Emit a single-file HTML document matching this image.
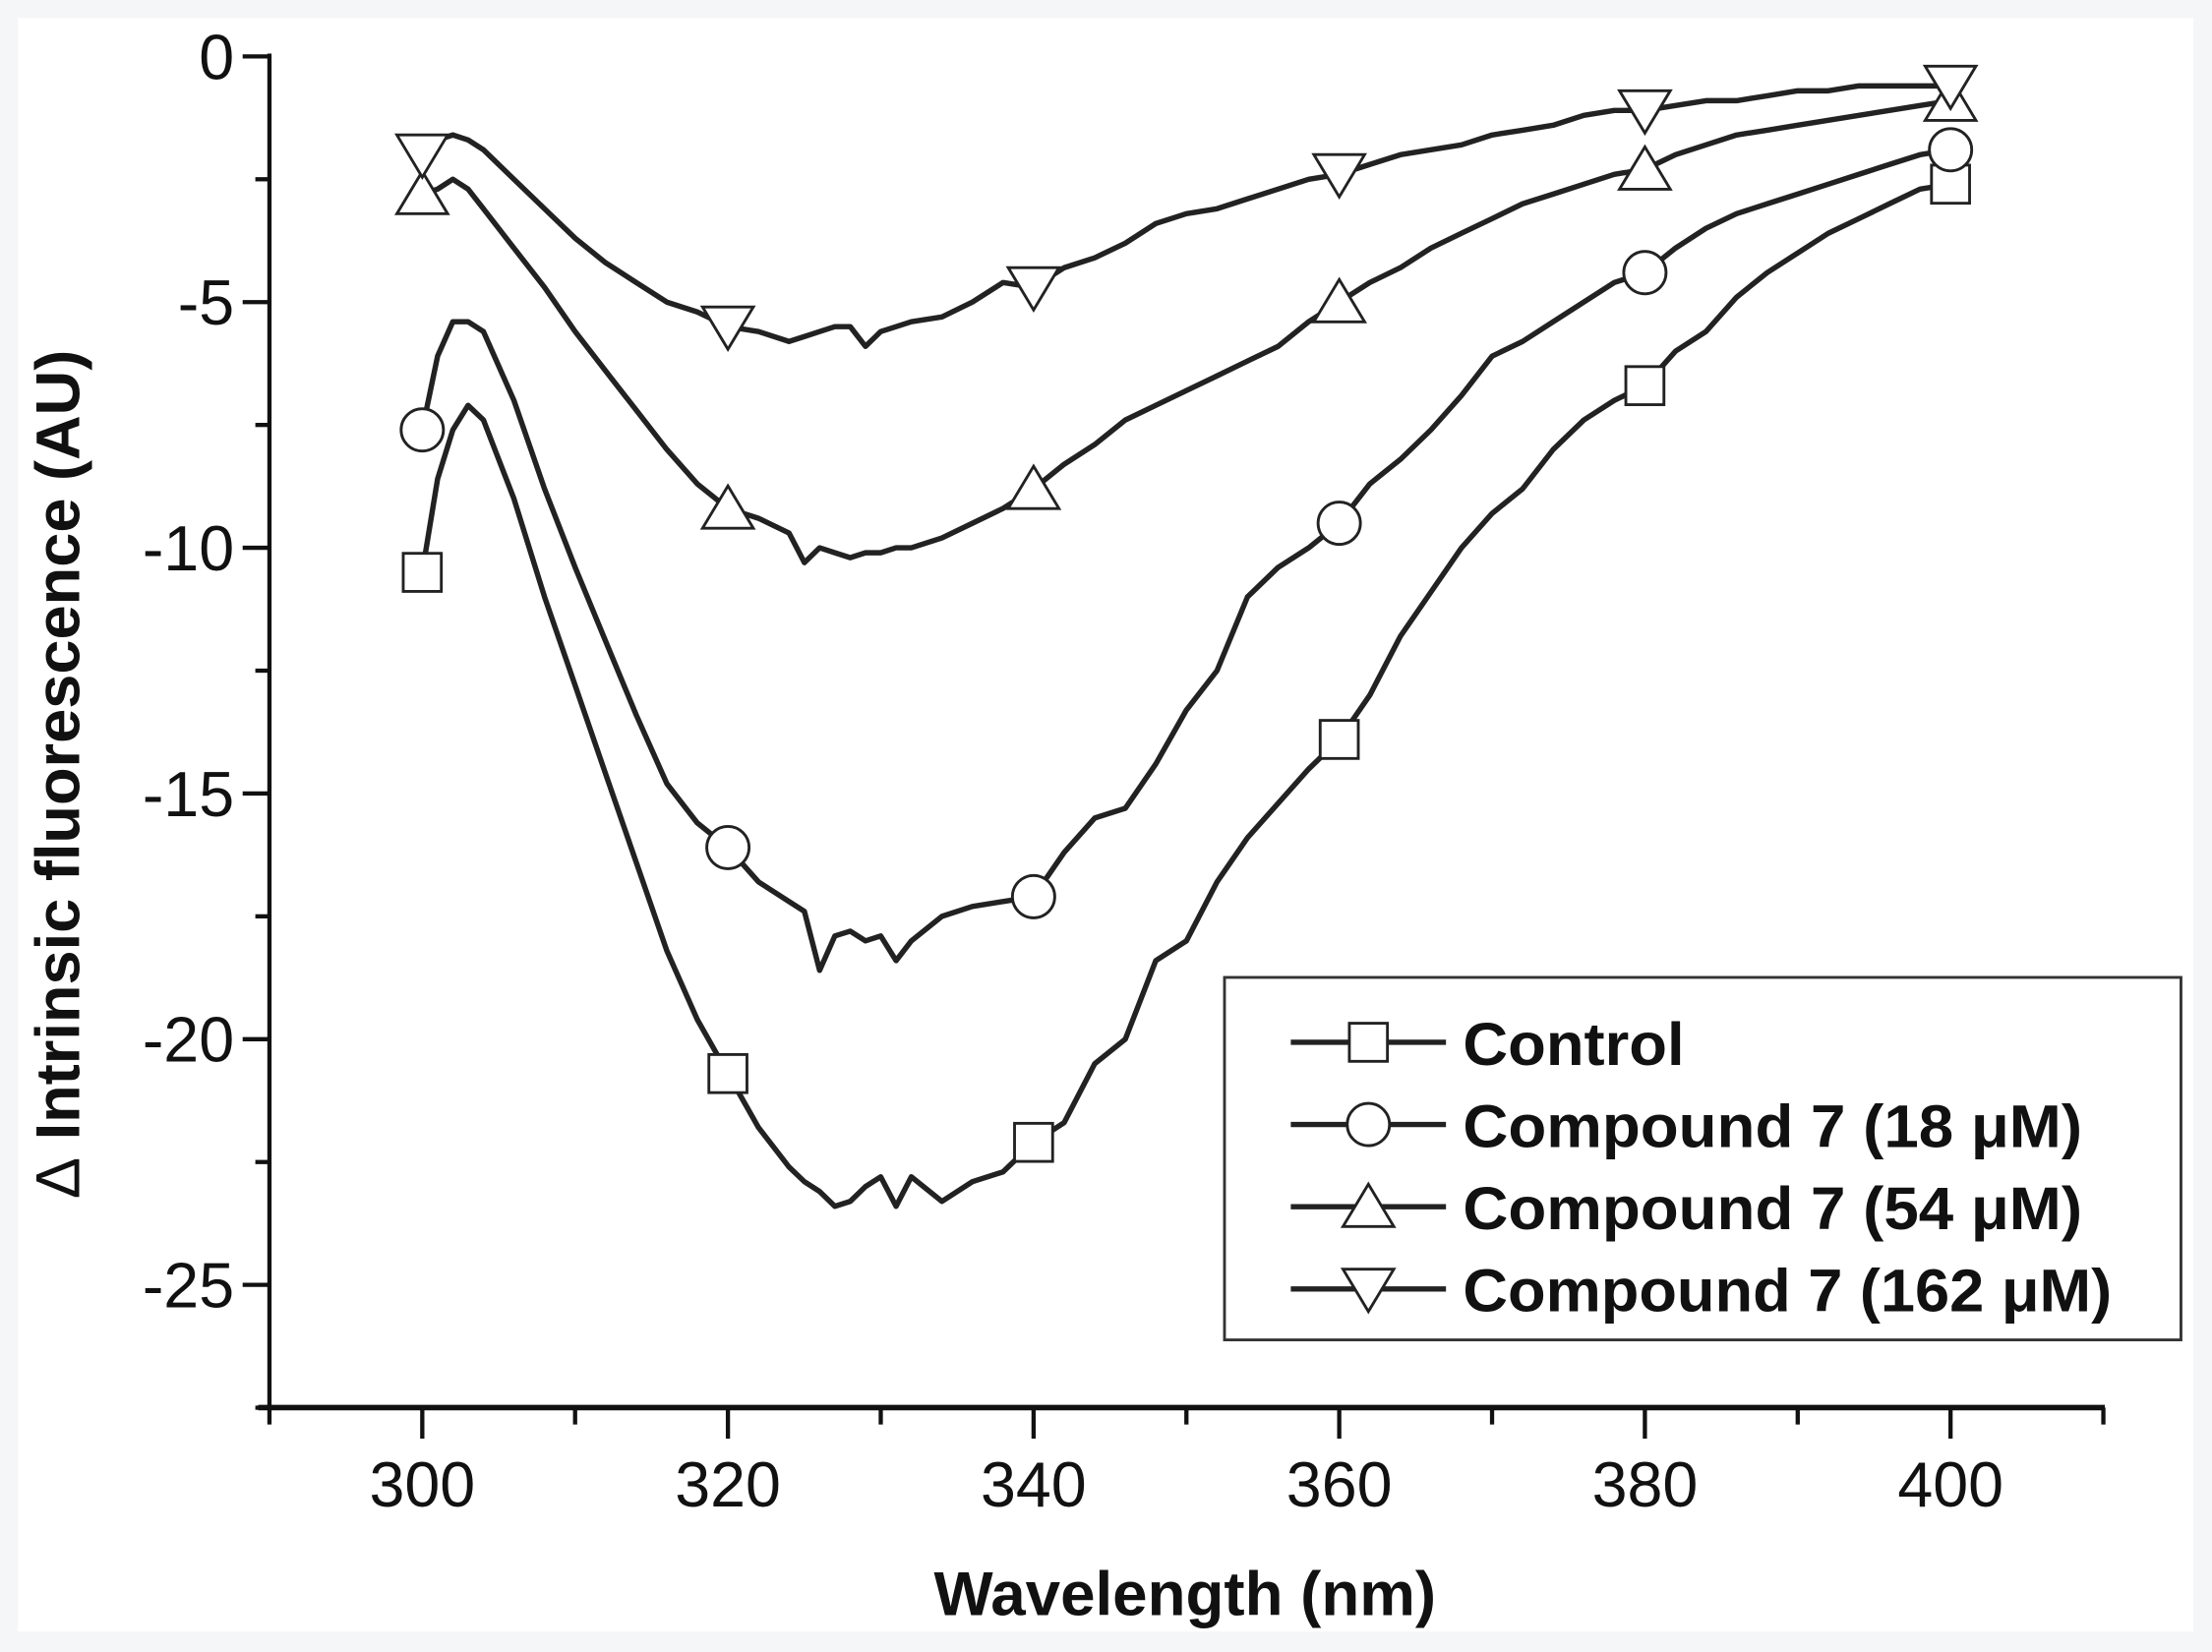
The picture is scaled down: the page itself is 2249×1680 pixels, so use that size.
<!DOCTYPE html>
<html><head><meta charset="utf-8">
<style>
html,body{margin:0;padding:0;background:#f5f6f8;}
svg{display:block;}
text{font-family:"Liberation Sans",Arial,sans-serif;fill:#111;}
</style></head>
<body>
<svg id="chart" width="2249" height="1680" viewBox="0 0 1568 1171.3" preserveAspectRatio="none" xmlns="http://www.w3.org/2000/svg">
<rect x="12.8" y="12.8" width="1542" height="1144" fill="#ffffff"/>
<g id="axes"></g>
<g id="series"></g>
<g id="legend"></g>
<text x="840" y="1145" text-anchor="middle" font-size="44" font-weight="bold" textLength="356" lengthAdjust="spacingAndGlyphs">Wavelength (nm)</text>
<text transform="translate(56,549) rotate(-90)" text-anchor="middle" font-size="44" font-weight="bold" textLength="602" lengthAdjust="spacingAndGlyphs"><tspan font-weight="normal">Δ</tspan> Intrinsic fluorescence (AU)</text>
</svg>
<script>
const wavelengths = [300,301,302,303,304,306,308,310,312,314,316,318,320,322,324,325,326,327,328,329,330,331,332,334,336,338,340,342,344,346,348,350,352,354,356,358,360,362,364,366,368,370,372,374,376,378,380,382,384,386,388,390,392,394,396,398,400];
const controlValues = [-10.5,-8.6,-7.6,-7.1,-7.4,-9.0,-11.0,-12.8,-14.6,-16.4,-18.2,-19.6,-20.7,-21.8,-22.6,-22.9,-23.1,-23.4,-23.3,-23.0,-22.8,-23.4,-22.8,-23.3,-22.9,-22.7,-22.1,-21.7,-20.5,-20.0,-18.4,-18.0,-16.8,-15.9,-15.2,-14.5,-13.9,-13.0,-11.8,-10.9,-10.0,-9.3,-8.8,-8.0,-7.4,-7.0,-6.7,-6.0,-5.6,-4.9,-4.4,-4.0,-3.6,-3.3,-3.0,-2.7,-2.6];
const c18Values = [-7.6,-6.1,-5.4,-5.4,-5.6,-7.0,-8.8,-10.4,-11.9,-13.4,-14.8,-15.6,-16.1,-16.8,-17.2,-17.4,-18.6,-17.9,-17.8,-18.0,-17.9,-18.4,-18.0,-17.5,-17.3,-17.2,-17.1,-16.2,-15.5,-15.3,-14.4,-13.3,-12.5,-11.0,-10.4,-10.0,-9.5,-8.7,-8.2,-7.6,-6.9,-6.1,-5.8,-5.4,-5.0,-4.6,-4.4,-3.9,-3.5,-3.2,-3.0,-2.8,-2.6,-2.4,-2.2,-2.0,-1.9];
const c54Values = [-2.8,-2.7,-2.5,-2.7,-3.1,-3.9,-4.7,-5.6,-6.4,-7.2,-8.0,-8.7,-9.2,-9.4,-9.7,-10.3,-10.0,-10.1,-10.2,-10.1,-10.1,-10.0,-10.0,-9.8,-9.5,-9.2,-8.8,-8.3,-7.9,-7.4,-7.1,-6.8,-6.5,-6.2,-5.9,-5.4,-5.0,-4.6,-4.3,-3.9,-3.6,-3.3,-3.0,-2.8,-2.6,-2.4,-2.3,-2.0,-1.8,-1.6,-1.5,-1.4,-1.3,-1.2,-1.1,-1.0,-0.9];
const c162Values = [-2.0,-1.7,-1.6,-1.7,-1.9,-2.5,-3.1,-3.7,-4.2,-4.6,-5.0,-5.2,-5.5,-5.6,-5.8,-5.7,-5.6,-5.5,-5.5,-5.9,-5.6,-5.5,-5.4,-5.3,-5.0,-4.6,-4.7,-4.3,-4.1,-3.8,-3.4,-3.2,-3.1,-2.9,-2.7,-2.5,-2.4,-2.2,-2.0,-1.9,-1.8,-1.6,-1.5,-1.4,-1.2,-1.1,-1.1,-1.0,-0.9,-0.9,-0.8,-0.7,-0.7,-0.6,-0.6,-0.6,-0.6];
const markerWavelengths = [300,320,340,360,380,400];
const xTickLabels = [300,320,340,360,380,400];
const yTickLabels = [0,-5,-10,-15,-20,-25];
const seriesNames = ["Control","Compound 7 (18 μM)","Compound 7 (54 μM)","Compound 7 (162 μM)"];

const NS="http://www.w3.org/2000/svg";
const xScale = w => 191 + (w-290)*(1491-191)/120;
const yScale = v => 40 - v*34.84;
function mk(tag, attrs, parent){const e=document.createElementNS(NS,tag);for(const k in attrs)e.setAttribute(k,attrs[k]);parent.appendChild(e);return e;}
const axes=document.getElementById('axes');
let e;
e=mk('line',{x1:191,y1:38,x2:191,y2:998,stroke:'#111','stroke-width':3},axes);


e=mk('line',{x1:183,y1:998,x2:1492,y2:998,stroke:'#111','stroke-width':4},axes);


for(let v=0; v>=-27.5; v-=2.5){
  const major = Math.abs(v%5)<1e-9;
  e=mk('line',{x1:major?172:181,y1:yScale(v),x2:191,y2:yScale(v),stroke:'#111','stroke-width':3},axes);
  
  
}
yTickLabels.forEach(v=>{
  e=mk('text',{x:166,y:yScale(v)+16,'text-anchor':'end','font-size':45},axes);
  e.textContent=String(v);
  
  
});
for(let w=290; w<=410; w+=10){
  const major = (w-300)%20===0;
  e=mk('line',{x1:xScale(w),y1:998,x2:xScale(w),y2:major?1020:1010,stroke:'#111','stroke-width':3},axes);
  
  
}
xTickLabels.forEach(w=>{
  e=mk('text',{x:xScale(w),y:1068,'text-anchor':'middle','font-size':45},axes);
  e.textContent=String(w);
  
  
});

function marker(type,cx,cy,parent){
  let m;
  const st={fill:'#fff',stroke:'#222','stroke-width':2};
  if(type==='square') m=mk('rect',Object.assign({x:cx-13.5,y:cy-13.5,width:27,height:27},st),parent);
  else if(type==='circle') m=mk('circle',Object.assign({cx:cx,cy:cy,r:15},st),parent);
  else if(type==='up') m=mk('polygon',Object.assign({points:`${cx},${cy-16} ${cx+18},${cy+14} ${cx-18},${cy+14}`},st),parent);
  else m=mk('polygon',Object.assign({points:`${cx-18},${cy-14} ${cx+18},${cy-14} ${cx},${cy+16}`},st),parent);
  return m;
}
const seriesList=[
  {vals:controlValues,type:'square',name:'control'},
  {vals:c18Values,type:'circle',name:'compound-18um'},
  {vals:c54Values,type:'up',name:'compound-54um'},
  {vals:c162Values,type:'down',name:'compound-162um'}
];
const sg=document.getElementById('series');
seriesList.forEach(s=>{
  const d=s.vals.map((v,i)=>(i?'L':'M')+xScale(wavelengths[i]).toFixed(1)+','+yScale(v).toFixed(1)).join(' ');
  const p=mk('path',{d:d,fill:'none',stroke:'#222','stroke-width':3.8,'stroke-linejoin':'round'},sg);
  
  
  markerWavelengths.forEach(w=>{
    const i=wavelengths.indexOf(w);
    const m=marker(s.type,xScale(w),yScale(s.vals[i]),sg);
    
    
  });
});
const lg=document.getElementById('legend');
e=mk('rect',{x:868,y:693,width:678,height:257,fill:'#fff',stroke:'#333','stroke-width':2},lg);


const types=['square','circle','up','down'];
const legendLens=[157,439,439,460];
seriesNames.forEach((n,i)=>{
  const y=739+i*58.3;
  e=mk('line',{x1:915,y1:y,x2:1025,y2:y,stroke:'#222','stroke-width':3.8},lg);
  
  
  e=marker(types[i],970,y,lg);
  
  
  e=mk('text',{x:1037,y:y+16,'font-size':43,'font-weight':'bold',textLength:legendLens[i],lengthAdjust:'spacingAndGlyphs'},lg);
  e.textContent=n;
  
  
});
</script>
</body></html>
